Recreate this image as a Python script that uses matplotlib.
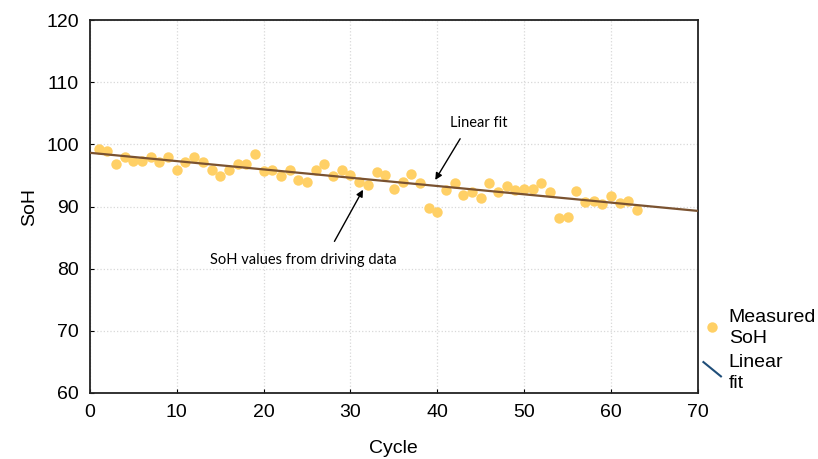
import numpy as np
import matplotlib.pyplot as plt
from matplotlib.lines import Line2D
from matplotlib.legend_handler import HandlerLine2D

plt.rcParams['font.family'] = ['Liberation Sans', 'DejaVu Sans']

# SoH, cycles 1..63
cycles = list(range(1, 64))
soh = [99.2, 99.0, 96.9, 98.0, 97.3, 97.3, 98.0, 97.1, 98.0, 95.9,
       97.2, 97.9, 97.1, 95.9, 94.9, 95.9, 96.8, 96.9, 98.4, 95.8,
       95.9, 94.9, 95.9, 94.3, 94.0, 95.9, 96.9, 94.9, 95.9, 95.0,
       93.9, 93.5, 95.6, 95.1, 92.9, 94.0, 95.2, 93.8, 89.8, 89.1,
       92.6, 93.8, 91.9, 92.3, 91.4, 93.8, 92.3, 93.3, 92.7, 92.9,
       92.8, 93.8, 92.3, 88.1, 88.3, 92.5, 90.7, 90.9, 90.4, 91.7,
       90.5, 90.9, 89.5]

# linear fit end points
fit_x = [0, 70]
fit_y = [98.65, 89.3]


class HandlerSlant(HandlerLine2D):
    def create_artists(self, legend, orig_handle, xdescent, ydescent,
                       width, height, fontsize, trans):
        ln = Line2D([xdescent + 0.05 * width, xdescent + 0.95 * width],
                    [height * 1.3, height * 0.25],
                    color=orig_handle.get_color(), lw=orig_handle.get_linewidth())
        ln.set_transform(trans)
        return [ln]


fig = plt.figure(figsize=(8.18, 4.59), dpi=100)
ax = fig.add_axes([0.110, 0.144, 0.743, 0.812])

ax.plot(fit_x, fit_y, color='#7a5230', lw=1.6, zorder=3)
ax.plot(cycles, soh, 'o', color='#FFD066', ms=7.5, mec='none', zorder=2)

ax.set_xlim(0, 70)
ax.set_ylim(60, 120)
ax.set_xticks(range(0, 71, 10))
ax.set_yticks(range(60, 121, 10))
ax.grid(True, ls=':', color='#d8d8d8', lw=0.9)
ax.tick_params(direction='in', length=3, labelsize=14, pad=8)
for s in ax.spines.values():
    s.set_linewidth(1.3)
    s.set_color('#222222')

ax.set_xlabel('Cycle', fontsize=14, labelpad=14)
ax.set_ylabel('SoH', fontsize=14, labelpad=6)

# annotations
ax.annotate('', xy=(39.6, 93.9), xytext=(42.8, 101.3),
            arrowprops=dict(arrowstyle='-|>', color='black', lw=1, mutation_scale=10))
ax.text(44.8, 103.4, 'Linear fit', ha='center', va='center', fontsize=10.5, family='Lato')
ax.annotate('', xy=(31.6, 93.1), xytext=(28.0, 84.0),
            arrowprops=dict(arrowstyle='-|>', color='black', lw=1, mutation_scale=10))
ax.text(24.6, 81.4, 'SoH values from driving data', ha='center', va='center',
        fontsize=10.5, family='Lato')

h1 = Line2D([], [], marker='o', ls='none', color='#FFD066', ms=7.5, mec='none')
h2 = Line2D([], [], color='#1F4E79', lw=1.5)
leg = fig.legend([h1, h2], ['Measured\nSoH', 'Linear\nfit'], loc='lower left',
                 bbox_to_anchor=(0.854, 0.137), frameon=False, fontsize=14,
                 handlelength=1.0, handletextpad=0.35, labelspacing=0.4,
                 borderpad=0.2, borderaxespad=0.0,
                 handler_map={h2: HandlerSlant()})
for t in leg.get_texts():
    t.set_linespacing(1.3)

fig.savefig('out.png', dpi=100)
